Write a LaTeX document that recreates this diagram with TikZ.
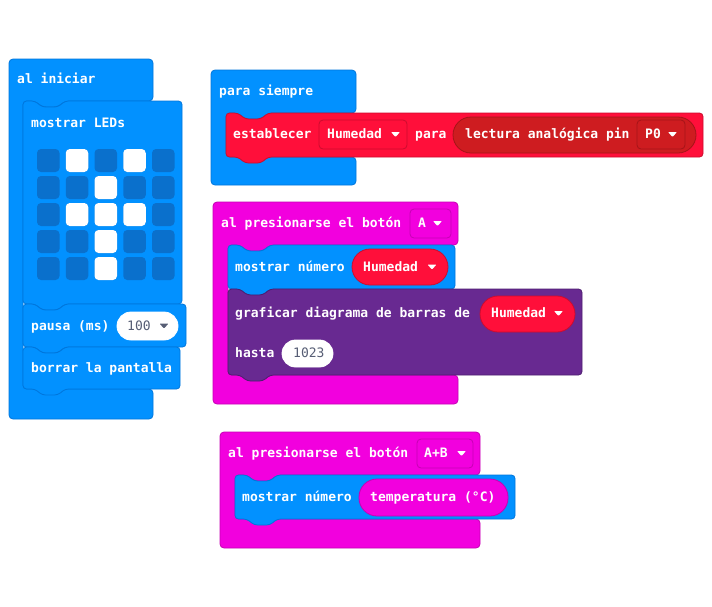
\documentclass[tikz,border=0pt]{standalone}
\usepackage{fontspec}
\newfontfamily\blockfont{DejaVu Sans Mono}

\definecolor{mcblue}{RGB}{2,145,255}
\definecolor{mcblueln}{RGB}{0,118,220}
\definecolor{mcled}{RGB}{10,112,204}
\definecolor{mcred}{RGB}{255,15,58}
\definecolor{mcredln}{RGB}{204,12,46}
\definecolor{mcpin}{RGB}{206,28,32}
\definecolor{mcpinln}{RGB}{165,20,24}
\definecolor{mcmag}{RGB}{242,0,222}
\definecolor{mcmagln}{RGB}{198,0,180}
\definecolor{mcpur}{RGB}{104,41,145}
\definecolor{mcpurln}{RGB}{78,30,112}
\definecolor{mcgrey}{RGB}{87,94,117}

% C-shaped event block: L, T, R, header bottom, arm bottom, B, arm inner x, style
\newcommand\mcHat[8]{%
  \path[#8,rounded corners=4pt] (#1,{#2+10}) -- (#1,#2) -- (#3,#2) -- (#3,#4)
    -- ({#7+42},#4) -- ({#7+35},{#4+6}) -- ({#7+19},{#4+6}) -- ({#7+12},#4)
    -- (#7,#4) -- (#7,#5) -- (#3,#5) -- (#3,#6) -- (#1,#6) -- cycle;}
% statement block with top notch and bottom tab: L, T, R, B, style
\newcommand\mcStmt[5]{%
  \path[#5,rounded corners=3.5pt] (#1,{#2+10}) -- (#1,#2) -- ({#1+12},#2)
    -- ({#1+19},{#2+6}) -- ({#1+35},{#2+6}) -- ({#1+42},#2) -- (#3,#2)
    -- (#3,#4) -- ({#1+42},#4) -- ({#1+35},{#4+6}) -- ({#1+19},{#4+6})
    -- ({#1+12},#4) -- (#1,#4) -- cycle;}
% reporter / field: x1, y1, x2, y2, radius, style
\newcommand\mcRound[6]{%
  \path[#6,rounded corners=#5pt] (#1,#2) rectangle (#3,#4);}
% dropdown arrow: left x, centre y, colour
\newcommand\mcDrop[3]{%
  \fill[#3,rounded corners=0.8pt] (#1,{#2-2.5}) -- ({#1+9},{#2-2.5}) -- ({#1+4.5},{#2+2.5}) -- cycle;}

\tikzset{
  blueblk/.style={fill=mcblue,draw=mcblueln,line width=0.8pt},
  redblk/.style={fill=mcred,draw=mcredln,line width=0.8pt},
  pinblk/.style={fill=mcpin,draw=mcpinln,line width=0.8pt},
  magblk/.style={fill=mcmag,draw=mcmagln,line width=0.8pt},
  purblk/.style={fill=mcpur,draw=mcpurln,line width=0.8pt},
  whiteblk/.style={fill=white,draw=white,line width=0.8pt},
  lbl/.style={anchor=base west,inner sep=0pt,text=white,
    font=\blockfont\bfseries\fontsize{13}{15}\selectfont},
  val/.style={lbl,text=mcgrey,font=\blockfont\fontsize{13}{15}\selectfont},
  ledoff/.style={fill=mcled,rounded corners=4pt},
  ledon/.style={fill=white,rounded corners=4pt}
}

\begin{document}
\begin{tikzpicture}[x=1pt,y=-1pt]
\useasboundingbox (0,0) rectangle (712,606);
\fill[white] (0,0) rectangle (712,606);

% ---- al iniciar ----
\mcHat{9}{59}{153}{101}{389}{419}{23}{blueblk}
\mcStmt{23}{101}{182}{304}{blueblk}
\mcStmt{23}{304}{186}{347}{blueblk}
\mcStmt{23}{347}{180}{389}{blueblk}
\node[lbl] (start) at (17,83.5) {al iniciar};
\node[lbl] (leds) at (31,127.5) {mostrar LEDs};
\foreach \c in {0,...,4}
  \foreach \r in {0,...,4}
    \path[ledoff] ({37+28.75*\c},{149+27*\r}) rectangle ++(22.5,23);
\foreach \c/\r in {1/0,3/0,2/1,1/2,2/2,3/2,2/3,2/4}
  \path[ledon] ({37+28.75*\c},{149+27*\r}) rectangle ++(22.5,23);
\node[lbl] (pause) at (31,330.5) {pausa (ms)};
\mcRound{117}{312}{178}{340}{14}{whiteblk}
\node[val] (pauseval) at (127,330.5) {100};
\mcDrop{159.5}{326}{mcgrey}
\node[lbl] (clear) at (31,372.5) {borrar la pantalla};

% ---- para siempre ----
\mcHat{211}{70}{356}{113}{157}{185}{226}{blueblk}
\mcStmt{226}{113}{703}{157}{redblk}
\node[lbl] (forever) at (219,95.5) {para siempre};
\node[lbl] (setvar) at (233,138.5) {establecer};
\mcRound{319}{120}{407}{149}{4}{redblk}
\node[lbl] (varname) at (327,138.5) {Humedad};
\mcDrop{391}{134.5}{white}
\node[lbl] (to) at (415,138.5) {para};
\mcRound{453}{117}{696}{153}{18}{pinblk}
\node[lbl] (analog) at (465,138.5) {lectura analógica pin};
\mcRound{637}{120}{685}{149}{4}{pinblk}
\node[lbl] (pin) at (645,138.5) {P0};
\mcDrop{668}{134.5}{white}

% ---- al presionarse el botón A ----
\mcHat{213}{202}{458}{245}{375}{404}{228}{magblk}
\mcStmt{228}{245}{455}{289}{blueblk}
\mcStmt{228}{289}{582}{375}{purblk}
\node[lbl] (btnA) at (221,227.5) {al presionarse el botón};
\mcRound{410}{209}{451}{238}{4}{magblk}
\node[lbl] (btnAval) at (418,227.5) {A};
\mcDrop{433}{223.5}{white}
\node[lbl] (shownum) at (235,271.5) {mostrar número};
\mcRound{352}{249}{448}{285}{18}{redblk}
\node[lbl] (hum1) at (363,271.5) {Humedad};
\mcDrop{427.5}{267}{white}
\node[lbl] (graph) at (235,317.5) {graficar diagrama de barras de};
\mcRound{480}{296}{575}{332}{18}{redblk}
\node[lbl] (hum2) at (491,317.5) {Humedad};
\mcDrop{554}{313.5}{white}
\node[lbl] (upto) at (235,357.5) {hasta};
\mcRound{282}{340}{333}{367}{13.5}{whiteblk}
\node[val] (maxval) at (293,357.5) {1023};

% ---- al presionarse el botón A+B ----
\mcHat{220}{432}{480}{475}{519}{548}{235}{magblk}
\mcStmt{235}{475}{515}{519}{blueblk}
\node[lbl] (btnAB) at (228,457.5) {al presionarse el botón};
\mcRound{417}{439}{473}{468}{4}{magblk}
\node[lbl] (btnABval) at (424,457.5) {A+B};
\mcDrop{457}{453.5}{white}
\node[lbl] (shownum2) at (242,501.5) {mostrar número};
\mcRound{359}{479}{508}{516}{18}{magblk}
\node[lbl] (temp) at (370,501.5) {temperatura (°C)};
\end{tikzpicture}
\end{document}
